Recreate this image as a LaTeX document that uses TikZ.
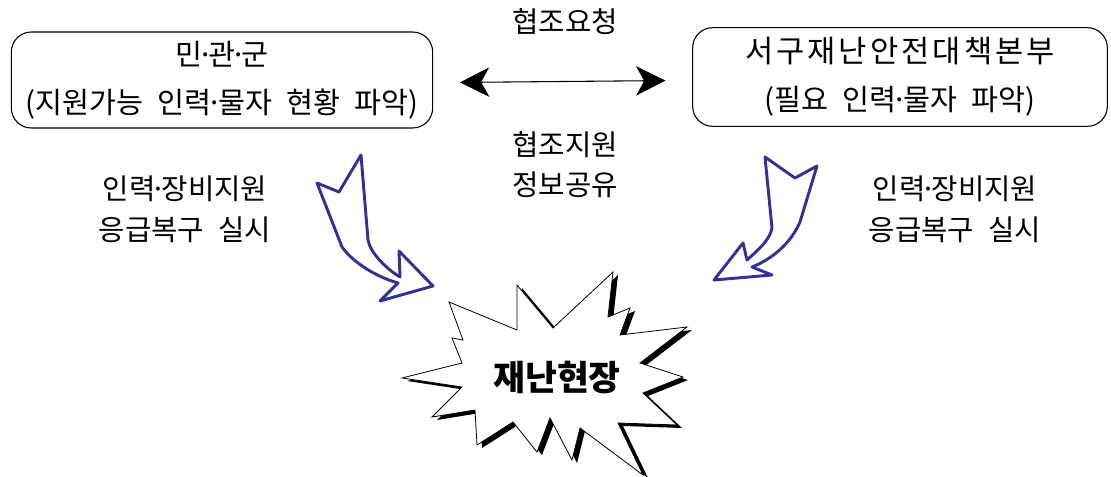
\documentclass[tikz,border=0pt]{standalone}
\usepackage{fontspec}
\setmainfont[WordSpace=2.2]{Noto Sans CJK KR}
\usetikzlibrary{arrows.meta}
\definecolor{arrowblue}{RGB}{50,50,150}
\newcommand*\mdot{\kern-.17em·\kern-.17em}

\begin{document}
\begin{tikzpicture}[x=0.75pt,y=-0.75pt,
		box/.style={draw,rounded corners=15pt,line width=0.8pt,align=center,font=\fontsize{22}{36}\selectfont},
		lbl/.style={align=center,font=\fontsize{21.5}{31}\selectfont},
		bluearrow/.style={draw=arrowblue,line width=2.2pt,line join=round,fill=white}]
		\useasboundingbox (0,0) rectangle (1111,477);
		% Draw the two boxes
		\node[box,minimum width=316pt,minimum height=72pt] (civil) at (222,80) {민\mdot 관\mdot 군\\(지원가능 인력\mdot 물자 현황 파악)};
		\node[box,minimum width=311pt,minimum height=74pt] (hq) at (900,77) {{\fontsize{23}{36}\selectfont\addfontfeature{LetterSpace=10}서구재난안전대책본부}\\(필요 인력\mdot 물자 파악)};
		\draw[{Stealth[length=22pt,width=22pt,inset=6pt]}-{Stealth[length=22pt,width=22pt,inset=6pt]},line width=0.8pt,shorten <=20pt,shorten >=20pt] ([yshift=-2pt]civil.east) -- ([yshift=-2.5pt]hq.west);
		\node[lbl] (request) at (565,22) {협조요청};
		\node[lbl,font=\fontsize{21.5}{30}\selectfont] (support) at (565,165) {협조지원\\정보공유};
		\node[lbl] (leftlbl) at (185,209) {인력\mdot 장비지원\\응급복구 실시};
		\node[lbl] (rightlbl) at (955,209) {인력\mdot 장비지원\\응급복구 실시};
		% Curved arrows
		\path[bluearrow] (317,183) -- (339,192) -- (361,155) -- (368,240) .. controls (370,252) and (385,268) .. (400,277) -- (399,251) -- (433,286) -- (380,301) -- (398,283) .. controls (380,278) and (355,265) .. (342,247) -- cycle;
		\path[bluearrow] (765,157) -- (795,178) -- (817,166) -- (800,222) .. controls (790,245) and (770,260) .. (752,267) -- (772,275) -- (714,280) -- (743,243) -- (747,260) .. controls (758,250) and (770,240) .. (772,228) -- cycle;
		% Starburst with shadow
		\def\burst{(449,302) -- (463,340) -- (452,338) -- (462,363) -- (402,378) -- (462,387) -- (432,417) -- (475,410) -- (477,445) -- (513,422) -- (537,452) -- (550,418) -- (572,460) -- (580,428) -- (643,475) -- (618,423) -- (677,425) -- (643,393) -- (683,377) -- (640,363) -- (687,327) -- (620,335) -- (630,308) -- (608,317) -- (613,272) -- (553,328) -- (517,285) -- (517,330) -- cycle}
		\fill[black,shift={(5,3)}] \burst;
		\filldraw[fill=white,draw=black,line width=0.6pt] \burst;
		\node[font=\fontsize{26}{30}\bfseries] (site) at (557,377) {재난현장};
\end{tikzpicture}
\end{document}
